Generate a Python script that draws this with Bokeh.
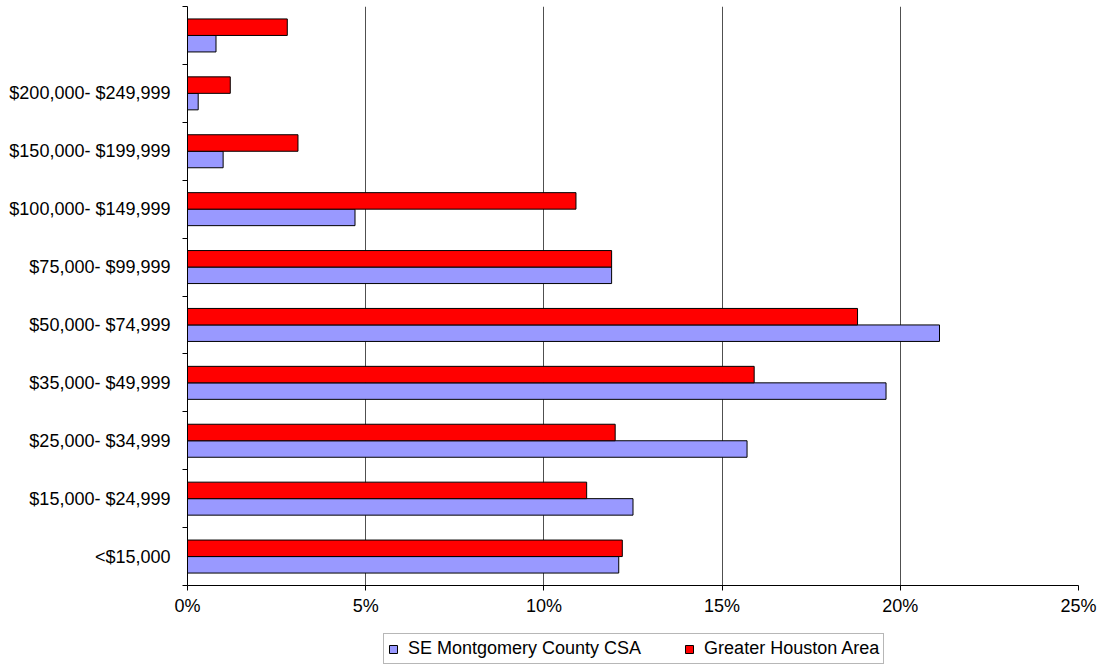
from bokeh.plotting import figure
from bokeh.models import (ColumnDataSource, Range1d, FixedTicker, CustomJSTickFormatter,
                          Legend, LegendItem)
from bokeh.layouts import column
from bokeh.transform import dodge
from bokeh.embed import file_html
from bokeh.resources import INLINE

categories = ["<$15,000", "$15,000- $24,999", "$25,000- $34,999", "$35,000- $49,999",
              "$50,000- $74,999", "$75,000- $99,999", "$100,000- $149,999",
              "$150,000- $199,999", "$200,000- $249,999", ""]
se_montgomery = [12.1, 12.5, 15.7, 19.6, 21.1, 11.9, 4.7, 1.0, 0.3, 0.8]
greater_houston = [12.2, 11.2, 12.0, 15.9, 18.8, 11.9, 10.9, 3.1, 1.2, 2.8]
x_ticks = [0, 5, 10, 15, 20, 25]
series_names = ["SE Montgomery County CSA", "Greater Houston Area"]
series_colors = ["#9999FF", "#FF0000"]

n = len(categories)
src = ColumnDataSource(dict(
    y=[i + 0.5 for i in range(n)],
    se=se_montgomery,
    gh=greater_houston,
))

FONT = "Liberation Sans"

p = figure(frame_width=891, frame_height=579, output_backend="svg", toolbar_location=None,
           x_range=Range1d(0, 25), y_range=Range1d(0, n),
           min_border_left=187, min_border_right=22, min_border_top=6, min_border_bottom=35)
p.outline_line_color = None
p.background_fill_color = "white"
p.border_fill_color = "white"

bar_h = 0.285
r_se = p.hbar(y=dodge("y", -bar_h / 2, range=p.y_range), left=0, right="se", height=bar_h,
              source=src, fill_color=series_colors[0], line_color="black", line_width=1)
r_gh = p.hbar(y=dodge("y", bar_h / 2, range=p.y_range), left=0, right="gh", height=bar_h,
              source=src, fill_color=series_colors[1], line_color="black", line_width=1)

# grid
p.ygrid.grid_line_color = None
p.xgrid.ticker = FixedTicker(ticks=x_ticks)
p.xgrid.grid_line_color = "#505050"
p.xgrid.grid_line_width = 1

# x axis
xa = p.xaxis[0]
xa.ticker = FixedTicker(ticks=x_ticks)
xa.formatter = CustomJSTickFormatter(code="return tick.toFixed(0) + '%';")
xa.axis_line_color = "black"
xa.major_tick_line_color = "black"
xa.major_tick_out = 5
xa.major_tick_in = 0
xa.minor_tick_line_color = None
xa.major_label_text_font = FONT
xa.major_label_text_font_size = "18px"
xa.major_label_text_color = "black"
xa.major_label_standoff = 5

# y axis: labels at centers, ticks at boundaries
ya = p.yaxis[0]
ya.ticker = FixedTicker(ticks=[i + 0.5 for i in range(n)], minor_ticks=list(range(n + 1)))
ya.formatter = CustomJSTickFormatter(args=dict(labels=categories),
                                     code="const k = Math.floor(tick); return (k >= 0 && k < labels.length) ? labels[k] : '';")
ya.axis_line_color = "black"
ya.major_tick_line_color = None
ya.major_tick_out = 0
ya.major_tick_in = 0
ya.minor_tick_line_color = "black"
ya.minor_tick_out = 5
ya.minor_tick_in = 0
ya.major_label_text_font = FONT
ya.major_label_text_font_size = "18px"
ya.major_label_text_color = "black"
ya.major_label_standoff = 12

# legend strip underneath (its frame is aligned with the main frame by the column);
# its view range lies above the data, so its bar renderers only feed the legend swatches
lg = figure(width=1100, height=46, output_backend="svg", toolbar_location=None,
            x_range=Range1d(0, 25), y_range=Range1d(n + 5, n + 6),
            min_border_left=187, min_border_top=0, min_border_right=22, min_border_bottom=0)
lg.axis.visible = False
lg.grid.visible = False
lg.outline_line_color = None
lg.background_fill_color = "white"
lg.border_fill_color = "white"
lg_r0 = lg.hbar(y="y", left=0, right="se", height=bar_h, source=src,
                fill_color=series_colors[0], line_color="black", line_width=1)
lg_r1 = lg.hbar(y="y", left=0, right="gh", height=bar_h, source=src,
                fill_color=series_colors[1], line_color="black", line_width=1)

legend = Legend(items=[LegendItem(label=series_names[0], renderers=[lg_r0]),
                       LegendItem(label=series_names[1], renderers=[lg_r1])],
                orientation="horizontal", location=(196, 2))
legend.label_text_font = FONT
legend.label_text_font_size = "18px"
legend.label_text_color = "black"
legend.glyph_width = 10
legend.glyph_height = 10
legend.label_standoff = 10
legend.spacing = 43
legend.padding = 4
legend.margin = 0
legend.label_height = 14
legend.border_line_color = "#707070"
legend.border_line_width = 1
legend.background_fill_alpha = 1
lg.add_layout(legend, "center")

layout = column(p, lg, spacing=0)
open("out.html", "w").write(file_html(layout, INLINE))
